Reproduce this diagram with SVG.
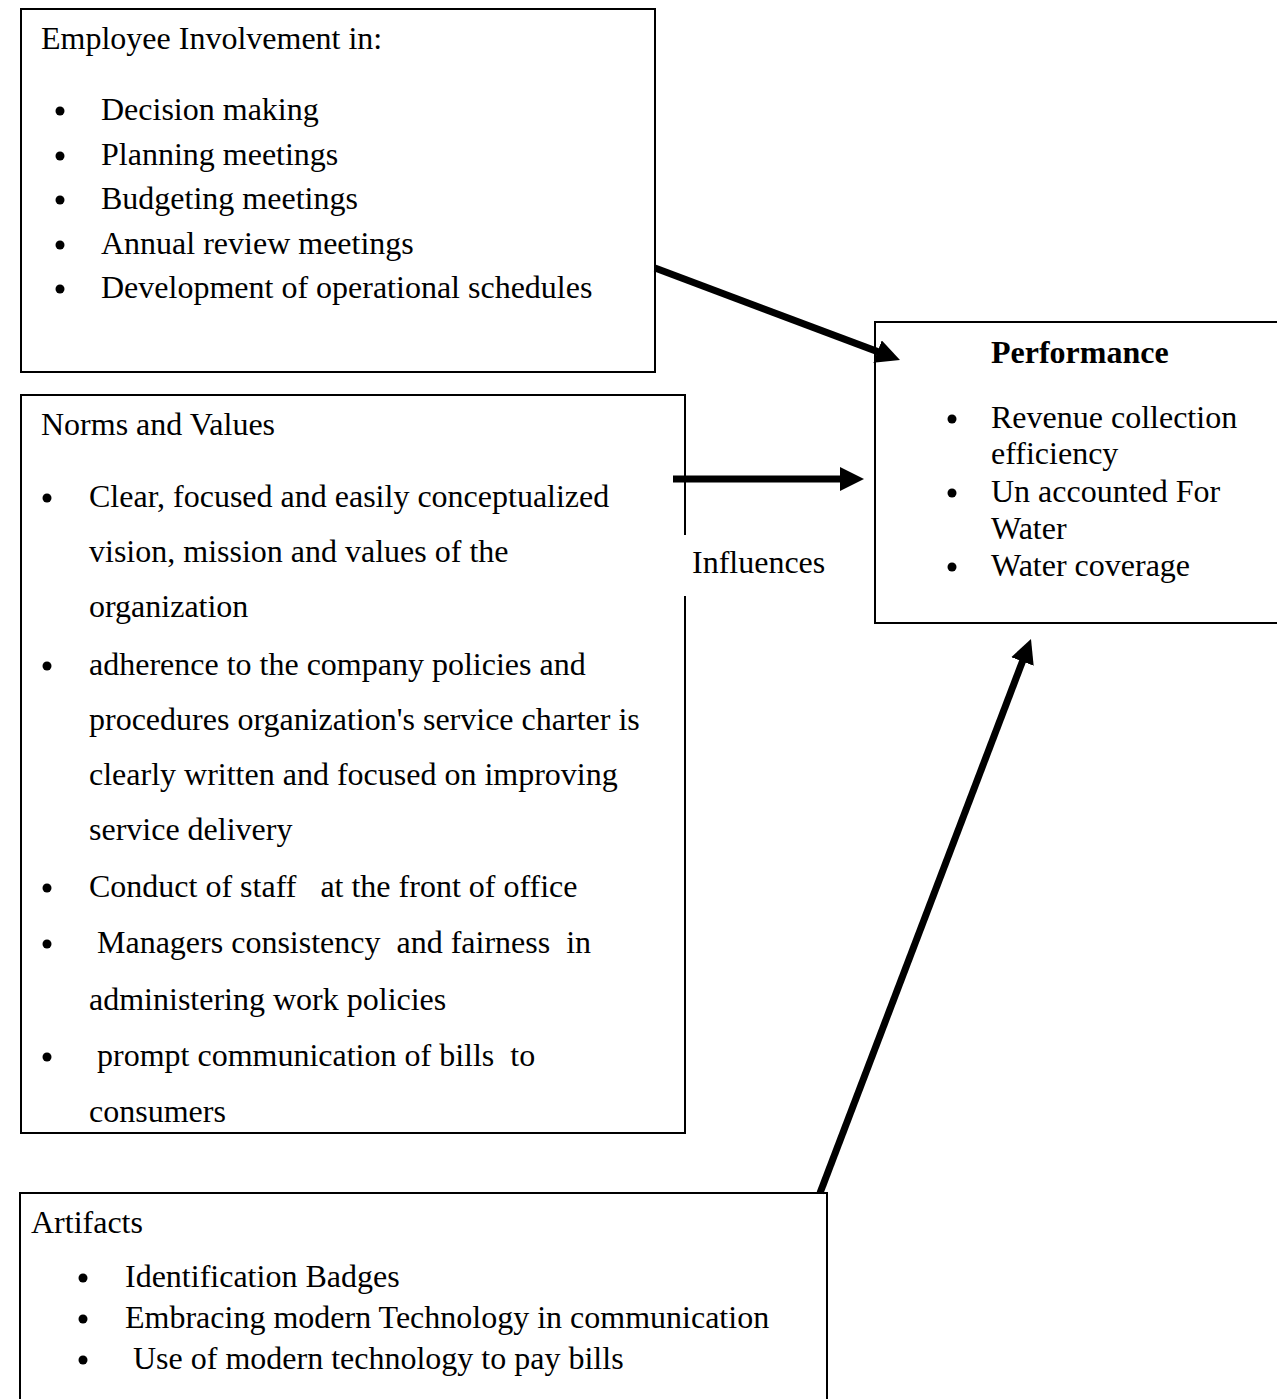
<svg xmlns="http://www.w3.org/2000/svg" width="1277" height="1399" viewBox="0 0 1277 1399">
<style>
.box{fill:none;stroke:#000;stroke-width:2}
.t{font-family:"Liberation Serif","Times New Roman",serif;font-size:32px;fill:#000}
.b{font-weight:bold}
.dot{fill:#000}
.conn{stroke:#000;stroke-width:7;fill:none}
</style>
<defs>
<marker id="ah" markerUnits="userSpaceOnUse" viewBox="0 0 24 24" refX="8" refY="12" markerWidth="24" markerHeight="24" orient="auto">
<path d="M0,0 L24,12 L0,24 z" fill="#000"/>
</marker>
</defs>
<rect width="1277" height="1399" fill="#fff"/>

<g id="node-employee">
<rect class="box" x="21" y="9" width="634" height="363"/>
<text class="t" x="41" y="49">Employee Involvement in:</text>
<circle class="dot" cx="60" cy="111" r="4.5"/><text class="t" x="101" y="120">Decision making</text>
<circle class="dot" cx="60" cy="156" r="4.5"/><text class="t" x="101" y="165">Planning meetings</text>
<circle class="dot" cx="60" cy="200" r="4.5"/><text class="t" x="101" y="209">Budgeting meetings</text>
<circle class="dot" cx="60" cy="245" r="4.5"/><text class="t" x="101" y="254">Annual review meetings</text>
<circle class="dot" cx="60" cy="289" r="4.5"/><text class="t" x="101" y="298">Development of operational schedules</text>
</g>

<g id="node-norms">
<path class="box" d="M685,535 V395 H21 V1133 H685 V596"/>
<text class="t" x="41" y="435">Norms and Values</text>
<circle class="dot" cx="47" cy="498" r="4.5"/><text class="t" x="89" y="507">Clear, focused and easily conceptualized</text>
<text class="t" x="89" y="562">vision, mission and values of the</text>
<text class="t" x="89" y="617">organization</text>
<circle class="dot" cx="47" cy="666" r="4.5"/><text class="t" x="89" y="675">adherence to the company policies and</text>
<text class="t" x="89" y="730">procedures organization's service charter is</text>
<text class="t" x="89" y="785">clearly written and focused on improving</text>
<text class="t" x="89" y="840">service delivery</text>
<circle class="dot" cx="47" cy="888" r="4.5"/><text class="t" x="89" y="897" xml:space="preserve">Conduct of staff   at the front of office</text>
<circle class="dot" cx="47" cy="944" r="4.5"/><text class="t" x="97" y="953" xml:space="preserve">Managers consistency  and fairness  in</text>
<text class="t" x="89" y="1010">administering work policies</text>
<circle class="dot" cx="47" cy="1057" r="4.5"/><text class="t" x="97" y="1066" xml:space="preserve">prompt communication of bills  to</text>
<text class="t" x="89" y="1122">consumers</text>
</g>

<g id="node-performance">
<rect class="box" x="875" y="322" width="410" height="301"/>
<text class="t b" x="991" y="363">Performance</text>
<circle class="dot" cx="952" cy="419" r="4.5"/><text class="t" x="991" y="428">Revenue collection</text>
<text class="t" x="991" y="464">efficiency</text>
<circle class="dot" cx="952" cy="493" r="4.5"/><text class="t" x="991" y="502">Un accounted For</text>
<text class="t" x="991" y="539">Water</text>
<circle class="dot" cx="952" cy="567" r="4.5"/><text class="t" x="991" y="576">Water coverage</text>
</g>

<g id="node-artifacts">
<rect class="box" x="20" y="1193" width="807" height="230"/>
<text class="t" x="31" y="1233">Artifacts</text>
<circle class="dot" cx="83" cy="1278" r="4.5"/><text class="t" x="125" y="1287">Identification Badges</text>
<circle class="dot" cx="83" cy="1319" r="4.5"/><text class="t" x="125" y="1328">Embracing modern Technology in communication</text>
<circle class="dot" cx="83" cy="1360" r="4.5"/><text class="t" x="133" y="1369">Use of modern technology to pay bills</text>
</g>

<g id="label-influences">
<text class="t" x="692" y="573">Influences</text>
</g>

<g id="connectors">
<line class="conn" x1="655" y1="268" x2="885" y2="354.4" marker-end="url(#ah)"/>
<line class="conn" x1="673" y1="479" x2="848" y2="479" marker-end="url(#ah)"/>
<line class="conn" x1="820" y1="1193" x2="1025.3" y2="654" marker-end="url(#ah)"/>
</g>
</svg>
